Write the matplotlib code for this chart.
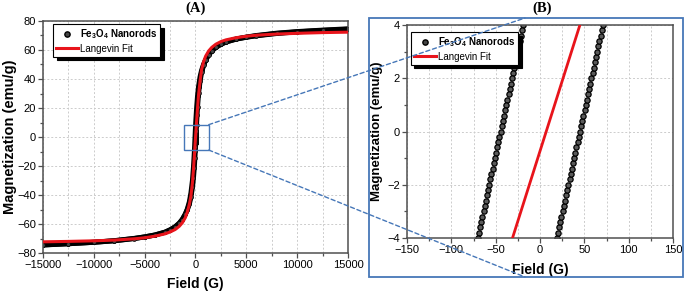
import matplotlib
matplotlib.use("Agg")
import matplotlib.pyplot as plt
from matplotlib.patches import Rectangle, ConnectionPatch
from matplotlib.lines import Line2D
from matplotlib.ticker import MultipleLocator

plt.rcParams['font.family'] = ['Liberation Sans', 'DejaVu Sans']
plt.rcParams['mathtext.fontset'] = 'custom'
plt.rcParams['mathtext.rm'] = 'Liberation Sans'
plt.rcParams['mathtext.bf'] = 'Liberation Sans:bold'

# ---------------- data ----------------
# descending branch of the measured loop (field in G, magnetization in emu/g)
desc_field_outer_pos = [15000, 12500, 10000, 8000, 6000, 5000, 4000, 3000, 2500, 2000,
                        1600, 1300, 1000, 800, 600, 450, 300, 200, 120, 60, 20, 0]
desc_mag_outer_pos = [74.6, 73.7, 72.7, 71.6, 70.0, 68.9, 67.6, 65.6, 64.0, 61.9,
                      59.5, 56.9, 53.2, 50.2, 46.0, 41.5, 34.8, 28.2, 21.0, 14.2, 9.5, 7.0]
desc_field_core = [-16.3, -17.6, -18.9, -20.2, -21.5, -22.7, -24.0, -25.3, -26.6, -27.9,
                   -29.1, -30.4, -31.7, -33.0, -34.3, -35.5, -36.8, -38.1, -39.4, -40.7,
                   -41.9, -43.2, -44.5, -45.8, -47.1, -48.3, -49.6, -50.9, -52.2, -53.5,
                   -54.7, -56.0, -57.3, -58.6, -59.9, -61.1, -62.4, -63.7, -65.0, -66.3,
                   -67.5, -68.8, -70.1, -71.4, -72.7]
desc_mag_core = [4.4, 4.2, 4.0, 3.8, 3.6, 3.4, 3.2, 3.0, 2.8, 2.6,
                 2.4, 2.2, 2.0, 1.8, 1.6, 1.4, 1.2, 1.0, 0.8, 0.6,
                 0.4, 0.2, 0.0, -0.2, -0.4, -0.6, -0.8, -1.0, -1.2, -1.4,
                 -1.6, -1.8, -2.0, -2.2, -2.4, -2.6, -2.8, -3.0, -3.2, -3.4,
                 -3.6, -3.8, -4.0, -4.2, -4.4]
desc_field_outer_neg = [-100, -150, -200, -300, -450, -600, -800, -1000, -1300, -1600,
                        -2000, -2500, -3000, -4000, -5000, -6000, -8000, -10000, -12500, -15000]
desc_mag_outer_neg = [-8.6, -15.0, -20.8, -30.0, -38.6, -44.6, -49.6, -53.1, -56.8, -59.4,
                      -61.9, -64.0, -65.6, -67.6, -68.9, -69.9, -71.5, -72.6, -73.6, -74.4]

# ascending branch of the measured loop
asc_field_outer_neg = [-15000, -12500, -10000, -8000, -6000, -5000, -4000, -3000, -2500, -2000,
                       -1600, -1300, -1000, -800, -600, -450, -300, -200, -120, -60, -20, 0]
asc_mag_outer_neg = [-74.5, -73.6, -72.6, -71.6, -70.0, -68.9, -67.6, -65.7, -64.1, -62.0,
                     -59.6, -57.0, -53.3, -50.1, -46.1, -41.4, -34.7, -28.1, -21.1, -14.3, -9.6, -6.9]
asc_field_core = [16.4, 17.7, 19.0, 20.3, 21.6, 22.9, 24.2, 25.5, 26.8, 28.1,
                  29.4, 30.7, 32.0, 33.3, 34.6, 35.9, 37.2, 38.5, 39.8, 41.1,
                  42.4, 43.7, 45.0, 46.3, 47.6, 48.9, 50.2, 51.5, 52.8, 54.1,
                  55.4, 56.7, 58.0, 59.3, 60.6, 61.9, 63.2, 64.5, 65.8, 67.1,
                  68.4, 69.7, 71.0, 72.3, 73.6]
asc_mag_core = [-4.4, -4.2, -4.0, -3.8, -3.6, -3.4, -3.2, -3.0, -2.8, -2.6,
                -2.4, -2.2, -2.0, -1.8, -1.6, -1.4, -1.2, -1.0, -0.8, -0.6,
                -0.4, -0.2, 0.0, 0.2, 0.4, 0.6, 0.8, 1.0, 1.2, 1.4,
                1.6, 1.8, 2.0, 2.2, 2.4, 2.6, 2.8, 3.0, 3.2, 3.4,
                3.6, 3.8, 4.0, 4.2, 4.4]
asc_field_outer_pos = [100, 150, 200, 300, 450, 600, 800, 1000, 1300, 1600,
                       2000, 2500, 3000, 4000, 5000, 6000, 8000, 10000, 12500, 15000]
asc_mag_outer_pos = [8.5, 15.1, 20.9, 30.1, 38.5, 44.5, 49.5, 53.0, 56.7, 59.3,
                     61.8, 63.9, 65.5, 67.5, 68.8, 69.8, 71.4, 72.5, 73.5, 74.3]

# Langevin fit
fit_field = [-15000, -12500, -10000, -8000, -6000, -5000, -4000, -3000, -2500, -2000,
             -1600, -1300, -1000, -800, -600, -450, -300, -200, -120, -31, 7, 45,
             120, 200, 300, 450, 600, 800, 1000, 1300, 1600, 2000, 2500, 3000,
             4000, 5000, 6000, 8000, 10000, 12500, 15000]
fit_mag = [-72.3, -72.0, -71.6, -71.1, -70.2, -69.5, -68.4, -66.8, -65.5, -63.8,
           -61.6, -59.2, -55.6, -51.6, -46.3, -40.6, -31.5, -22.5, -14.0, -4.0, 0.0, 4.0,
           12.0, 20.0, 29.0, 38.6, 46.5, 52.0, 55.8, 59.4, 61.8, 64.0, 65.8, 67.0,
           68.5, 69.5, 70.2, 71.0, 71.5, 72.0, 72.3]

zoom_box = [-1150, 1300, -9, 8.5]   # field range, magnetization range of the zoom box

xticks_a = [-15000, -10000, -5000, 0, 5000, 10000, 15000]
yticks_a = [-80, -60, -40, -20, 0, 20, 40, 60, 80]
xticks_b = [-150, -100, -50, 0, 50, 100, 150]
yticks_b = [-4, -2, 0, 2, 4]

# assemble branches
desc_field = desc_field_outer_pos + desc_field_core + desc_field_outer_neg
desc_mag = desc_mag_outer_pos + desc_mag_core + desc_mag_outer_neg
asc_field = asc_field_outer_neg + asc_field_core + asc_field_outer_pos
asc_mag = asc_mag_outer_neg + asc_mag_core + asc_mag_outer_pos

# ---------------- figure ----------------
W, H = 685, 294
fig = plt.figure(figsize=(W / 100, H / 100), dpi=100)

def px_rect(l, r, t, b):
    return [l / W, 1 - b / H, (r - l) / W, (b - t) / H]

axA = fig.add_axes(px_rect(43, 348, 21, 253))
axB = fig.add_axes(px_rect(407, 673, 25, 238))

spine_col = '#505050'
grid_col = '#cccccc'
blue = '#4677b8'

def style(ax, fs):
    for s in ax.spines.values():
        s.set_color(spine_col)
        s.set_linewidth(1.1)
    ax.tick_params(which='both', direction='out', colors=spine_col, labelcolor='black',
                   labelsize=fs, width=0.9)
    ax.tick_params(which='major', length=3.5, pad=1.5)
    ax.tick_params(which='minor', length=2)
    ax.grid(True, which='major', color=grid_col, linestyle=(0, (2, 2)), linewidth=0.7)
    ax.grid(True, which='minor', axis='x', color=grid_col, linestyle=(0, (2, 2)), linewidth=0.7)
    ax.set_axisbelow(True)

# ---- panel A ----
for f, m in [(desc_field, desc_mag), (asc_field, asc_mag)]:
    axA.plot(f, m, color='black', lw=3.6, marker='o', ms=2.8, mfc='#444444', mec='black',
             mew=0.5, zorder=2)
axA.plot(fit_field, fit_mag, color='#e8141b', lw=2.2, zorder=3)
axA.set_xlim(-15000, 15000)
axA.set_ylim(-80, 80)
axA.set_xticks(xticks_a)
axA.set_yticks(yticks_a)
axA.xaxis.set_minor_locator(MultipleLocator(2500))
axA.yaxis.set_minor_locator(MultipleLocator(10))
style(axA, 8)
axA.set_xlabel('Field (G)', fontsize=10, fontweight='bold', labelpad=5)
axA.set_ylabel('Magnetization (emu/g)', fontsize=10.5, fontweight='bold', labelpad=0)
fig.text((43 + 348) / 2 / W, 1 - 8.5 / H, '(A)', ha='center', va='center',
         fontsize=10.5, fontweight='bold', family='Liberation Serif')
axA.add_patch(Rectangle((zoom_box[0], zoom_box[2]), zoom_box[1] - zoom_box[0],
                        zoom_box[3] - zoom_box[2], fill=False, edgecolor=blue, lw=1.0, zorder=5))

# ---- panel B ----
for f, m in [(desc_field, desc_mag), (asc_field, asc_mag)]:
    axB.plot(f, m, linestyle='none', marker='o', ms=3.8, mfc='#5a5a5a', mec='black',
             mew=0.9, zorder=2)
axB.plot(fit_field, fit_mag, color='#e8141b', lw=2.0, zorder=3)
axB.set_xlim(-150, 150)
axB.set_ylim(-4, 4)
axB.set_xticks(xticks_b)
axB.set_yticks(yticks_b)
axB.xaxis.set_minor_locator(MultipleLocator(25))
axB.yaxis.set_minor_locator(MultipleLocator(1))
style(axB, 8)
axB.set_xlabel('Field (G)', fontsize=10, fontweight='bold', labelpad=6)
axB.set_ylabel('Magnetization (emu/g)', fontsize=9.5, fontweight='bold', labelpad=3)
fig.text(542 / W, 1 - 8.5 / H, '(B)', ha='center', va='center',
         fontsize=10.5, fontweight='bold', family='Liberation Serif')

# legends
def add_legend(ax, anchor):
    handles = [Line2D([], [], linestyle='none', marker='o', ms=3.8, mfc='#444444', mec='black'),
               Line2D([], [], color='#e8141b', lw=2.2)]
    labels = [r'$\mathbf{Fe_3O_4}$ Nanorods', 'Langevin Fit']
    leg = ax.legend(handles, labels, loc='upper left', bbox_to_anchor=anchor, fontsize=7,
                    frameon=True, fancybox=False, edgecolor='black', framealpha=1,
                    shadow={'color': 'black', 'alpha': 1.0, 'ox': 2.5, 'oy': -2.5},
                    handlelength=2.3, handletextpad=0.2, borderpad=0.3, labelspacing=0.25,
                    borderaxespad=0)
    leg.get_frame().set_linewidth(0.8)
    leg.get_texts()[0].set_fontweight('bold')
    return leg

add_legend(axA, (0.033, 0.985))
add_legend(axB, (0.015, 0.965))

# blue frame around panel B
fig.add_artist(Rectangle((369 / W, 1 - 277 / H), (683 - 369) / W, (277 - 18) / H,
                         transform=fig.transFigure, fill=False, edgecolor=blue, lw=1.3,
                         zorder=10))

# dashed connectors
for (bx, by), ty in [((zoom_box[1], zoom_box[3]), 18), ((zoom_box[1], zoom_box[2]), 277)]:
    cp = ConnectionPatch(xyA=(bx, by), coordsA=axA.transData,
                         xyB=(525 / W, 1 - ty / H), coordsB=fig.transFigure,
                         color=blue, lw=1.0, linestyle=(0, (3, 2)), zorder=11)
    fig.add_artist(cp)

fig.savefig('out.png', dpi=100)
